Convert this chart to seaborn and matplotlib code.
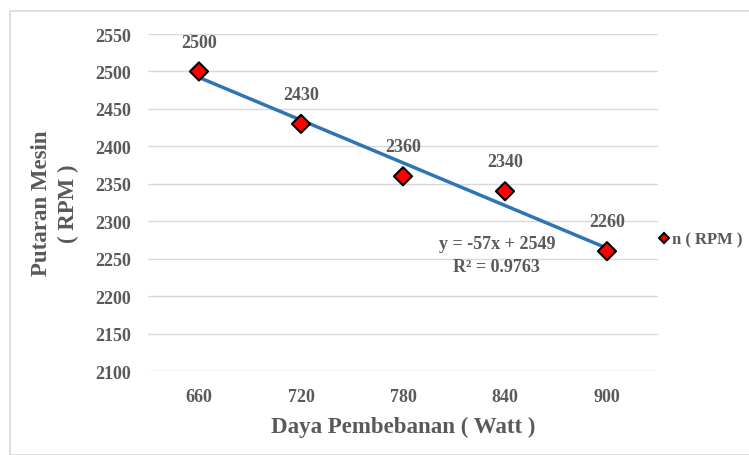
import numpy as np
import pandas as pd
import matplotlib
matplotlib.use("Agg")
import matplotlib.pyplot as plt
import seaborn as sns
from matplotlib.patches import Rectangle

categories = ["660", "720", "780", "840", "900"]
rpm = [2500, 2430, 2360, 2340, 2260]
yticks = [2100, 2150, 2200, 2250, 2300, 2350, 2400, 2450, 2500, 2550]

sns.set_theme(style="white")
plt.rcParams['font.family'] = ['Liberation Serif', 'DejaVu Serif']
gray = "#595959"

df = pd.DataFrame({"pos": np.arange(len(categories)), "rpm": rpm, "series": "n ( RPM )"})

fig = plt.figure(figsize=(7.49, 4.56), dpi=100)
fig.patches.append(Rectangle((10/749, 0), 1, 1 - 12/456, transform=fig.transFigure,
                             fill=False, edgecolor="#d9d9d9", linewidth=1.2))
ax = fig.add_axes([148/749, 1 - 372/456, (658 - 148)/749, (372 - 35)/456])

# trend line (linear fit, x = 1..n)
xs = np.arange(1, len(rpm) + 1)
slope, intercept = np.polyfit(xs, rpm, 1)
r2 = np.corrcoef(xs, rpm)[0, 1] ** 2
trend = pd.DataFrame({"pos": df["pos"], "fit": slope * xs + intercept})
sns.lineplot(data=trend, x="pos", y="fit", ax=ax, color="#2e75b6", linewidth=2.5, legend=False, zorder=2)

sns.scatterplot(data=df, x="pos", y="rpm", hue="series", palette=["#ff0000"], ax=ax,
                marker="D", s=85, edgecolor="black", linewidth=1.5, zorder=3, legend=True)

for p, v in zip(df["pos"], rpm):
    ax.annotate(str(v), (p, v), xytext=(0, 15), textcoords="offset points", ha="center",
                va="bottom", fontsize=13, fontweight="bold", color=gray)

ax.text(2.92, 2270, f"y = {slope:.0f}x + {intercept:.0f}", ha="center", va="center",
        fontsize=13, fontweight="bold", color=gray)
ax.text(2.92, 2239, f"R² = {r2:.4f}", ha="center", va="center",
        fontsize=13, fontweight="bold", color=gray)

ax.set_xlim(-0.5, len(categories) - 0.5)
ax.set_ylim(2100, 2550)
ax.set_xticks(df["pos"])
ax.set_xticklabels(categories)
ax.set_yticks(yticks)
ax.tick_params(axis="both", length=0, labelsize=13, labelcolor=gray, pad=12)
for lbl in ax.get_xticklabels() + ax.get_yticklabels():
    lbl.set_fontweight("bold")
ax.grid(axis="y", color="#d9d9d9", linewidth=1)
ax.set_axisbelow(True)
for s in ax.spines.values():
    s.set_visible(False)

ax.set_xlabel("Daya Pembebanan ( Watt )", fontsize=16.5, fontweight="bold", color=gray, labelpad=8)
ax.set_ylabel("Putaran Mesin\n( RPM )", fontsize=16.5, fontweight="bold", color=gray, labelpad=12,
              linespacing=1.35)

leg = ax.legend(loc="center left", bbox_to_anchor=(0.995, 0.39), frameon=False,
                handletextpad=0.0, handlelength=1.0, markerscale=0.55, borderaxespad=0.0,
                borderpad=0.0, prop={"family": "Liberation Serif", "weight": "bold", "size": 12})
for t in leg.get_texts():
    t.set_color(gray)

fig.savefig("out.png", dpi=100)
